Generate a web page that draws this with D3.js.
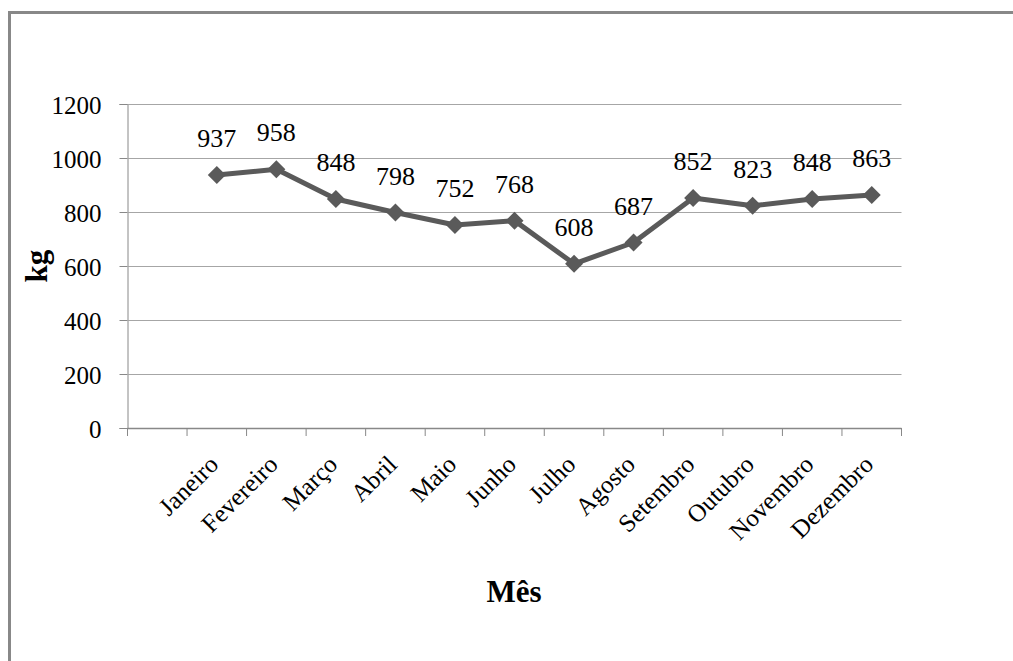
<!DOCTYPE html>
<html>
<head>
<meta charset="utf-8">
<script src="https://cdn.jsdelivr.net/npm/d3@7"></script>
<style>
  html, body { margin: 0; padding: 0; background: #fff; }
  svg { display: block; }
  svg text { font-family: "Times New Roman", "Liberation Serif", serif; fill: #000; }
</style>
</head>
<body>
<svg id="chart" width="1013" height="661"></svg>
<script>
// Monthly weight (kg); the first category slot is left empty
const months = ["", "Janeiro", "Fevereiro", "Março", "Abril", "Maio", "Junho",
                "Julho", "Agosto", "Setembro", "Outubro", "Novembro", "Dezembro"];
const values = [937, 958, 848, 798, 752, 768, 608, 687, 852, 823, 848, 863];
const yTicks = [0, 200, 400, 600, 800, 1000, 1200];

const serif = "'Times New Roman', 'Liberation Serif', serif";
const svg = d3.select("#chart");

// outer frame
svg.append("rect")
  .attr("x", 9.5).attr("y", 12.5)
  .attr("width", 1100).attr("height", 800)
  .attr("fill", "none").attr("stroke", "#888").attr("stroke-width", 3);

const plot = { left: 127.5, right: 901.5, top: 104, bottom: 428 };

const x = d3.scaleBand().domain(months).range([plot.left, plot.right]).padding(0);
const y = d3.scaleLinear().domain([0, 1200]).range([plot.bottom, plot.top]);

// value axis with left tick marks
const yAxis = d3.axisLeft(y).tickValues(yTicks).tickFormat(d3.format("d")).tickSize(8).tickPadding(18);
const gy = svg.append("g").attr("transform", `translate(${plot.left},0)`).call(yAxis)
  .attr("font-family", serif);
gy.select(".domain").attr("stroke", "#888");
gy.selectAll(".tick line").attr("stroke", "#888");
gy.selectAll(".tick text").attr("font-size", 25).style("font-family", serif).attr("dy", "0.36em");

// horizontal gridlines
svg.append("g").selectAll("line").data(yTicks.filter(d => d > 0)).join("line")
  .attr("x1", plot.left).attr("x2", plot.right)
  .attr("y1", d => Math.round(y(d)) + 0.5).attr("y2", d => Math.round(y(d)) + 0.5)
  .attr("stroke", "#a6a6a6").attr("stroke-width", 1);

// category axis: ticks at band boundaries
const bounds = months.map(m => x(m)).concat([plot.right]);
const gx = svg.append("g");
gx.append("line")
  .attr("x1", plot.left).attr("x2", plot.right)
  .attr("y1", plot.bottom + 0.5).attr("y2", plot.bottom + 0.5)
  .attr("stroke", "#888").attr("stroke-width", 1.5);
gx.selectAll("line.tk").data(bounds).join("line").attr("class", "tk")
  .attr("x1", d => d).attr("x2", d => d)
  .attr("y1", plot.bottom).attr("y2", plot.bottom + 8)
  .attr("stroke", "#888");

gx.selectAll("text").data(months.filter(m => m)).join("text")
  .attr("transform", d => `translate(${x(d) + x.bandwidth() / 2 + 3},${plot.bottom + 38}) rotate(-45)`)
  .attr("text-anchor", "end")
  .style("font-family", serif)
  .attr("font-size", 25)
  .text(d => d);

// series
const pts = values.map((v, i) => ({ m: months[i + 1], v }));
const cx = d => x(d.m) + x.bandwidth() / 2;

svg.append("path")
  .datum(pts)
  .attr("fill", "none")
  .attr("stroke", "#5a5a5a")
  .attr("stroke-width", 5)
  .attr("stroke-linejoin", "round")
  .attr("d", d3.line().x(cx).y(d => y(d.v)));

svg.append("g").selectAll("path").data(pts).join("path")
  .attr("transform", d => `translate(${cx(d)},${y(d.v)})`)
  .attr("d", "M0,-9L9,0L0,9L-9,0Z")
  .attr("fill", "#5a5a5a");

// value labels
svg.append("g").selectAll("text").data(pts).join("text")
  .attr("x", cx)
  .attr("y", d => y(d.v) - 28)
  .attr("text-anchor", "middle")
  .style("font-family", serif)
  .attr("font-size", 26)
  .text(d => d.v);

// axis titles
svg.append("text")
  .attr("x", 514).attr("y", 602)
  .attr("text-anchor", "middle")
  .style("font-family", serif)
  .attr("font-size", 31).attr("font-weight", "bold")
  .text("Mês");

svg.append("text")
  .attr("transform", "translate(47,266) rotate(-90)")
  .attr("text-anchor", "middle")
  .style("font-family", serif)
  .attr("font-size", 31).attr("font-weight", "bold")
  .text("kg");
</script>
</body>
</html>
